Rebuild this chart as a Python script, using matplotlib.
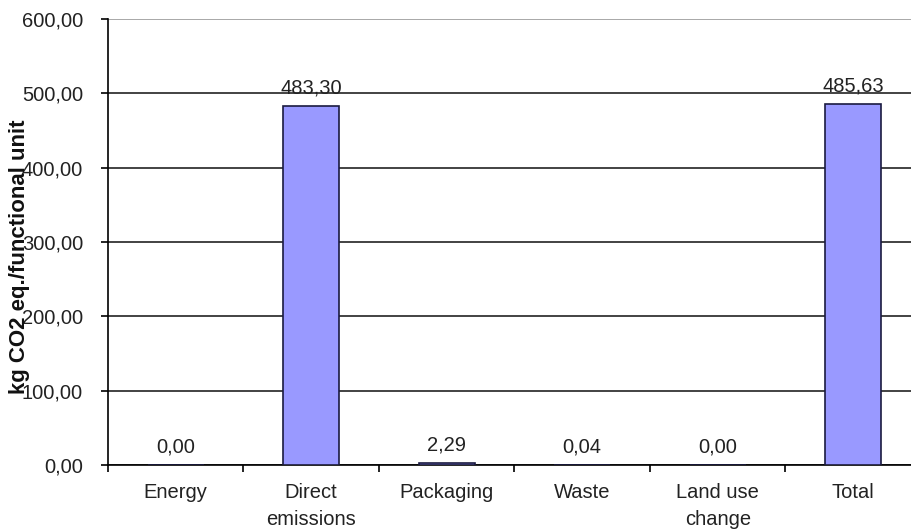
import matplotlib.pyplot as plt
import numpy as np

categories = ['Energy', 'Direct\nemissions', 'Packaging', 'Waste', 'Land use\nchange', 'Total']
values = [0.00, 483.30, 2.29, 0.04, 0.00, 485.63]
y_ticks = [0, 100, 200, 300, 400, 500, 600]

plt.rcParams['font.family'] = ['Liberation Sans', 'DejaVu Sans']

fig = plt.figure(figsize=(9.12, 5.31), dpi=100)
ax = fig.add_axes([108 / 912, 66 / 531, 813 / 912, 446 / 531])

x = np.arange(len(categories))
bars = ax.bar(x, values, width=0.41, color='#9999ff', edgecolor='#1a1a40', linewidth=1.2, zorder=3)

for xi, v in zip(x, values):
    ax.annotate(f'{v:.2f}'.replace('.', ','), (xi, v), xytext=(0, 6), textcoords='offset points',
                ha='center', va='bottom', fontsize=14.5, color='#222222')

ax.set_xlim(-0.5, len(categories) - 0.5)
ax.set_ylim(0, 600)
ax.set_yticks(y_ticks)
ax.set_yticklabels([f'{t:.2f}'.replace('.', ',') for t in y_ticks], fontsize=14.5, color='#222222')
ax.set_xticks(x)
ax.set_xticklabels(categories, fontsize=14.5, color='#222222', linespacing=1.5)
ax.set_xticks(np.arange(-0.5, len(categories), 1), minor=True)
ax.tick_params(axis='x', which='major', length=0, pad=13)
ax.tick_params(axis='x', which='minor', length=5, width=1.2, direction='out')
ax.tick_params(axis='y', length=5, width=1.2, direction='out', pad=13)

ax.yaxis.grid(True, color='#222222', linewidth=1.2, zorder=0)
ax.get_ygridlines()[-1].set_color('#999999')
ax.set_axisbelow(True)
for s in ['top', 'right']:
    ax.spines[s].set_visible(False)
ax.spines['left'].set_linewidth(1.2)
ax.spines['bottom'].set_linewidth(1.2)

fig.text(20 / 912, 1 - 257 / 531, 'kg CO2 eq./functional unit', rotation=90, ha='center', va='center',
         fontsize=16, fontweight='bold', color='#111111')

fig.savefig('out.png', dpi=100)
